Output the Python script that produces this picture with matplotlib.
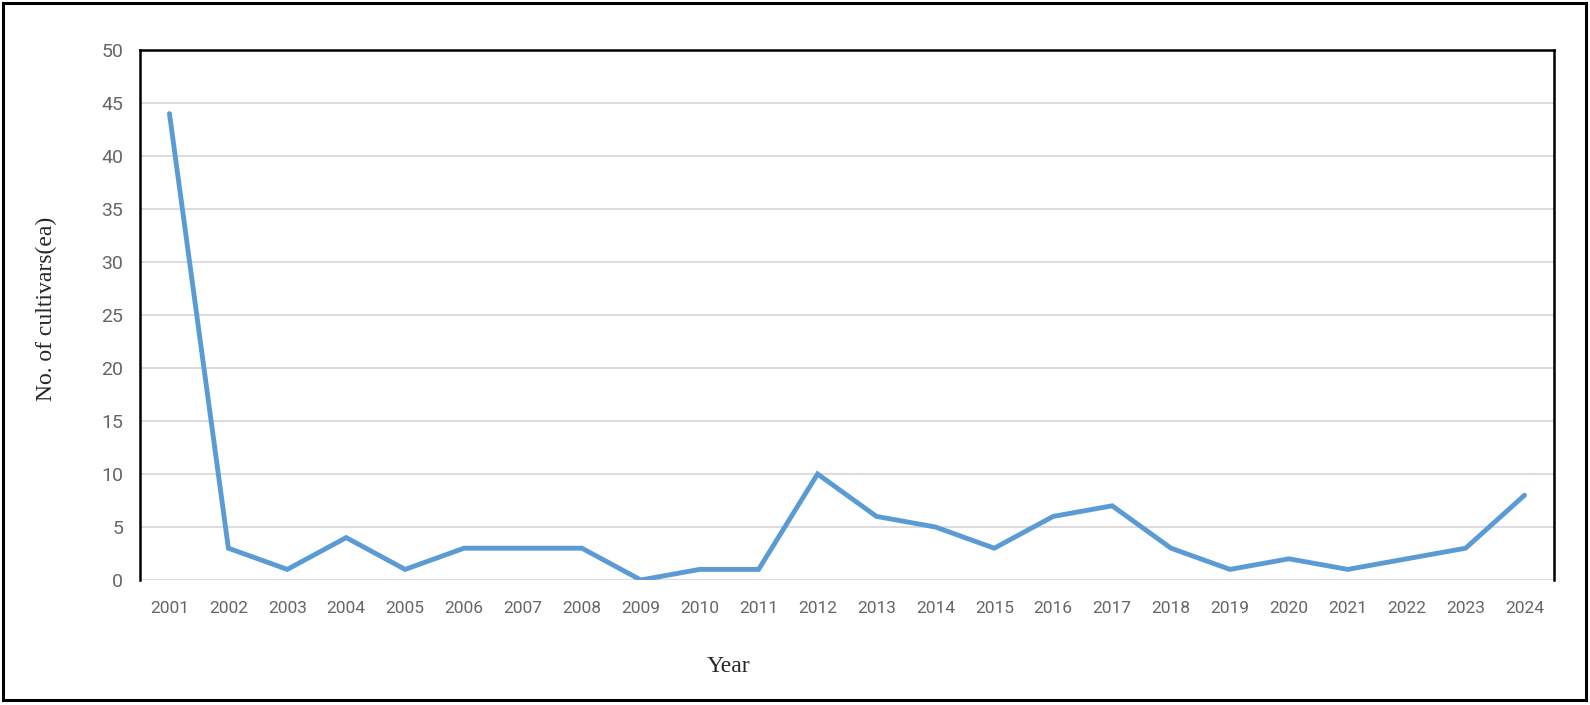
import matplotlib
matplotlib.use("Agg")
import matplotlib.pyplot as plt
from matplotlib.patches import Rectangle

years = ["2001", "2002", "2003", "2004", "2005", "2006", "2007", "2008", "2009", "2010",
         "2011", "2012", "2013", "2014", "2015", "2016", "2017", "2018", "2019", "2020",
         "2021", "2022", "2023", "2024"]
cultivars = [44, 3, 1, 4, 1, 3, 3, 3, 0, 1, 1, 10, 6, 5, 3, 6, 7, 3, 1, 2, 1, 2, 3, 8]
yticks = [0, 5, 10, 15, 20, 25, 30, 35, 40, 45, 50]

W, H = 1590, 705
fig = plt.figure(figsize=(W / 100, H / 100), dpi=100)
fig.patch.set_facecolor("white")

# outer border
fig.patches.append(Rectangle((3 / W, 5 / H), (1586 - 3) / W, (702 - 5) / H,
                             transform=fig.transFigure, fill=False,
                             edgecolor="black", linewidth=2.2))

left, right, top, bottom = 140, 1554, 50, 580
ax = fig.add_axes([left / W, 1 - bottom / H, (right - left) / W, (bottom - top) / H])

x = list(range(len(years)))
ax.plot(x, cultivars, color="#5B9BD5", linewidth=3.5, solid_joinstyle="miter",
        solid_capstyle="round", zorder=3)

ax.set_xlim(-0.5, len(years) - 0.5)
ax.set_ylim(0, 50)
ax.set_yticks(yticks)
ax.set_xticks(x)
ax.set_xticklabels(years)

for lab in ax.get_xticklabels() + ax.get_yticklabels():
    lab.set_fontfamily(["Roboto", "DejaVu Sans"])
    lab.set_color("#666666")
for lab in ax.get_xticklabels():
    lab.set_fontsize(12.5)
for lab in ax.get_yticklabels():
    lab.set_fontsize(14)

ax.tick_params(axis="both", length=0)
ax.tick_params(axis="y", pad=12)
ax.tick_params(axis="x", pad=15)

ax.yaxis.grid(True, color="#D9D9D9", linewidth=1.3)
ax.xaxis.grid(False)
ax.set_axisbelow(True)

for side in ["left", "top", "right"]:
    ax.spines[side].set_color("black")
    ax.spines[side].set_linewidth(1.8)
ax.spines["bottom"].set_visible(False)

fig.text(728 / W, 1 - 666 / H, "Year", ha="center", va="center",
         family=["Liberation Serif", "DejaVu Serif"], fontsize=17, color="#262626")
fig.text(46 / W, 1 - 309 / H, "No. of cultivars(ea)", ha="center", va="center",
         rotation=90, family=["Liberation Serif", "DejaVu Serif"], fontsize=17,
         color="#262626")

fig.savefig("out.png", dpi=100, facecolor="white")
